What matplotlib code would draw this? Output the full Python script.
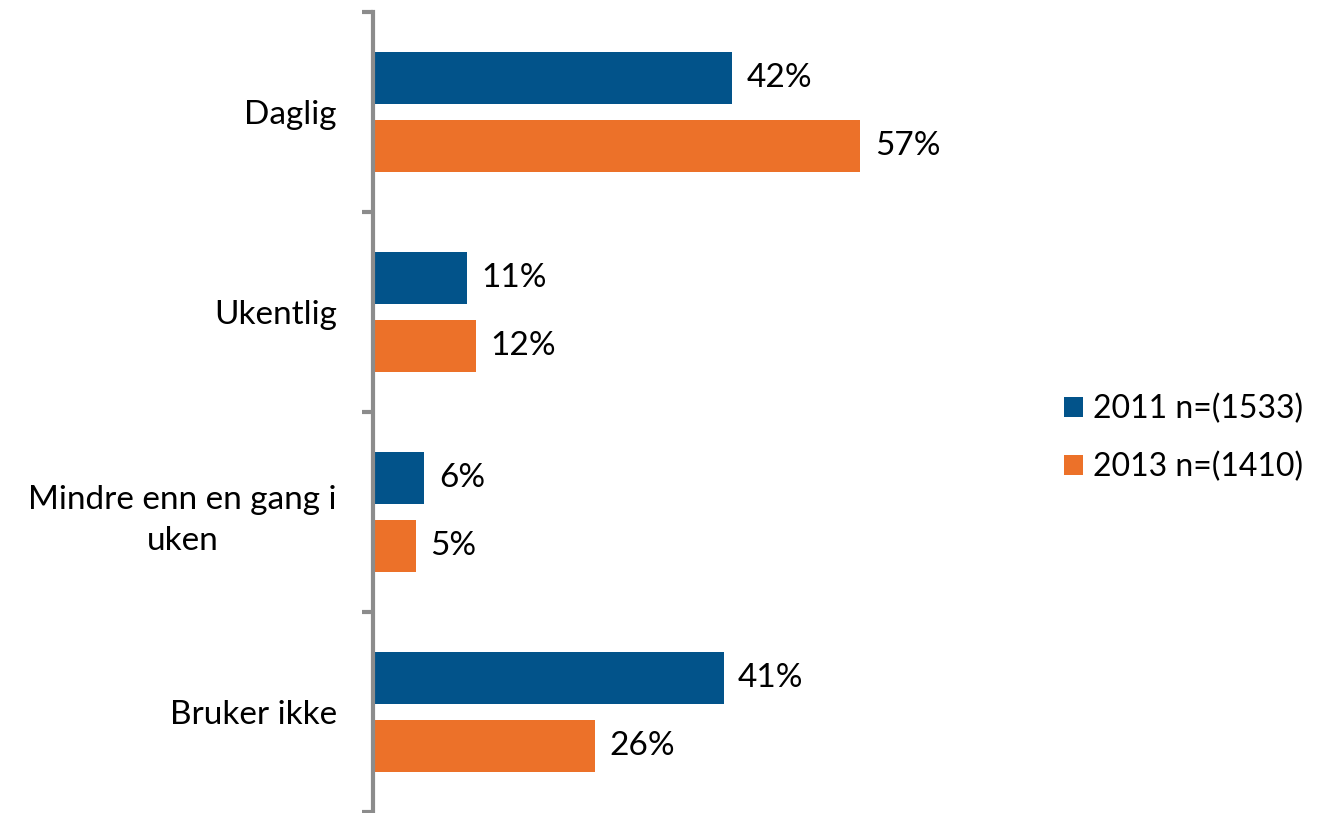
import matplotlib
matplotlib.use("Agg")
import matplotlib.pyplot as plt
import numpy as np
from matplotlib.patches import Patch

plt.rcParams['font.family'] = ['Lato', 'DejaVu Sans']

# data
categories = ['Daglig', 'Ukentlig', 'Mindre enn en gang i\nuken', 'Bruker ikke']
values_2011 = [42, 11, 6, 41]
values_2013 = [57, 12, 5, 26]
series_names = ['2011 n=(1533)', '2013 n=(1410)']

blue = '#02538A'
orange = '#EC7129'
fs = 24

W, H = 1318, 813
fig = plt.figure(figsize=(W / 100, H / 100), dpi=100)
ax = fig.add_axes([373 / W, 1 / H, (1000 - 373) / W, 800 / H])

y = np.arange(len(categories))
bh = 0.26
off = 0.17
b1 = ax.barh(y - off, values_2011, height=bh, color=blue)
b2 = ax.barh(y + off, values_2013, height=bh, color=orange)

for bars, vals in [(b1, values_2011), (b2, values_2013)]:
    for b, v in zip(bars, vals):
        ax.text(b.get_width() + 1.7, b.get_y() + b.get_height() / 2, f'{v}%',
                va='center', ha='left', fontsize=fs, color='black')

ax.set_xlim(0, (1000 - 373) / 8.55)
ax.set_ylim(len(categories) - 0.5, -0.5)

# boundary ticks, labels on minor ticks
ax.set_yticks(np.arange(-0.5, len(categories)))
ax.set_yticklabels([])
ax.set_yticks(y, minor=True)
ax.set_yticklabels(categories, minor=True, fontsize=fs, ha='right',
                   multialignment='center', linespacing=1.45)
ax.tick_params(axis='y', which='major', length=8, width=3, color='#8C8C8C', direction='out')
ax.tick_params(axis='y', which='minor', length=0, pad=26)
ax.set_xticks([])

for s in ['top', 'right', 'bottom']:
    ax.spines[s].set_visible(False)
ax.spines['left'].set_color('#8C8C8C')
ax.spines['left'].set_linewidth(3)

handles = [Patch(facecolor=blue), Patch(facecolor=orange)]
fig.legend(handles, series_names, loc='center left', bbox_to_anchor=(1064 / W, 1 - 438 / H),
           frameon=False, fontsize=23, handlelength=0.6, handleheight=0.6,
           handletextpad=0.3, labelspacing=0.85, borderpad=0, borderaxespad=0)

fig.savefig('out.png', dpi=100)
